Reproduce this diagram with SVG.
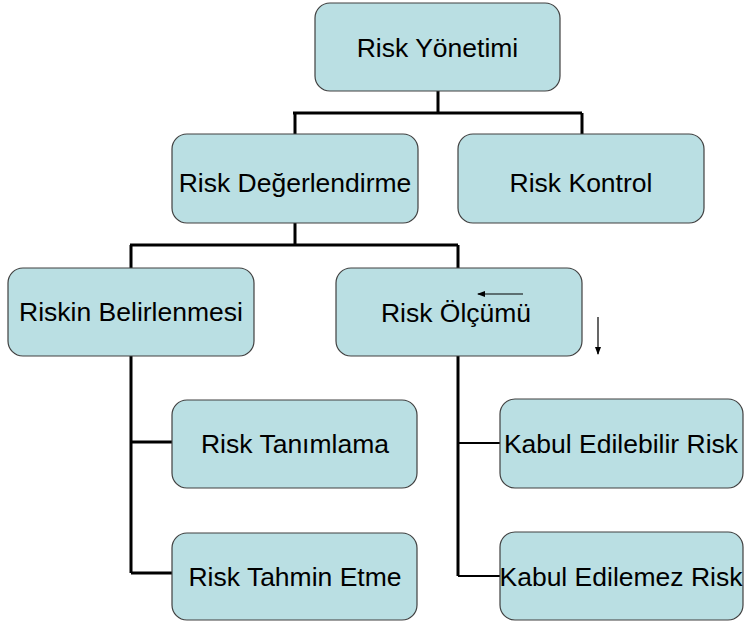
<svg xmlns="http://www.w3.org/2000/svg" width="744" height="625" viewBox="0 0 744 625">
<defs>
<style>
.box{fill:#BADFE3;stroke:#404040;stroke-width:1.2}
.lbl{font-family:"Liberation Sans",Arial,sans-serif;font-size:26.5px;fill:#000;text-anchor:middle}
.c{stroke:#000;stroke-width:3;fill:none}
.c2{stroke:#000;stroke-width:2;fill:none}
.a{stroke:#000;stroke-width:1.2;fill:none}
</style>
<marker id="ah" markerWidth="8" markerHeight="8" refX="7" refY="4" orient="auto" markerUnits="userSpaceOnUse">
<path d="M0,1 L8,4 L0,7 Z" fill="#000"/>
</marker>
</defs>
<rect width="744" height="625" fill="#fff"/>
<g id="connectors">
<path class="c" d="M438,91 V113 M293,113 H582 M295,113 V134 M582,113 V134"/>
<path class="c" d="M295,223 V245 M130,245 H458 M131,245 V268 M458,245 V268"/>
<path class="c" d="M131,356 V573 M131,442 H172 M131,573 H172"/>
<path class="c" d="M458,356 V576"/>
<path class="c2" d="M458,443 H500 M458,576 H500"/>
</g>
<g id="n1"><rect class="box" x="315" y="3" width="245" height="88" rx="15"/><text class="lbl" x="437.5" y="56.5">Risk Yönetimi</text></g>
<g id="n2"><rect class="box" x="172" y="134" width="246" height="89" rx="15"/><text class="lbl" x="295" y="192">Risk Değerlendirme</text></g>
<g id="n3"><rect class="box" x="458" y="134" width="246" height="89" rx="15"/><text class="lbl" x="581" y="192">Risk Kontrol</text></g>
<g id="n4"><rect class="box" x="8" y="268" width="246" height="88" rx="15"/><text class="lbl" x="131" y="321">Riskin Belirlenmesi</text></g>
<g id="n5"><rect class="box" x="336" y="268" width="246" height="88" rx="15"/><text class="lbl" x="456" y="322">Risk Ölçümü</text></g>
<g id="n6"><rect class="box" x="172" y="400" width="245" height="88" rx="15"/><text class="lbl" x="295" y="453">Risk Tanımlama</text></g>
<g id="n7"><rect class="box" x="172" y="533" width="245" height="87" rx="15"/><text class="lbl" x="295" y="586">Risk Tahmin Etme</text></g>
<g id="n8"><rect class="box" x="500" y="399" width="243" height="89" rx="15"/><text class="lbl" x="621" y="453">Kabul Edilebilir Risk</text></g>
<g id="n9"><rect class="box" x="500" y="532" width="243" height="88" rx="15"/><text class="lbl" x="621" y="586">Kabul Edilemez Risk</text></g>
<g id="arrows">
<line class="a" x1="523" y1="294" x2="478" y2="294" marker-end="url(#ah)"/>
<line class="a" x1="598" y1="317" x2="598" y2="354" marker-end="url(#ah)"/>
</g>
</svg>
